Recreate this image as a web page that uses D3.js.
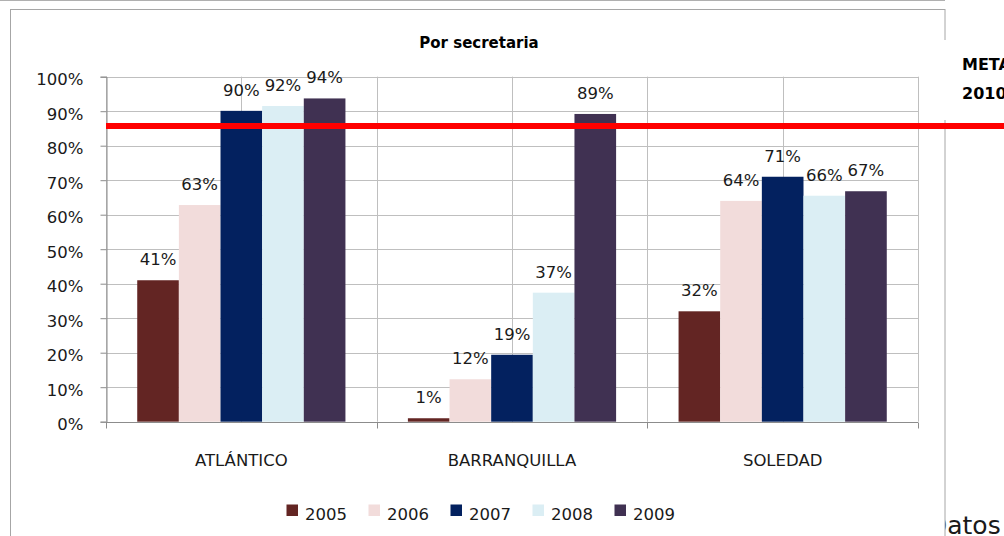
<!DOCTYPE html>
<html>
<head>
<meta charset="utf-8">
<script src="https://cdn.jsdelivr.net/npm/d3@7"></script>
<style>
  body { margin: 0; background: #fff; }
  svg { display: block; font-family: "DejaVu Sans", sans-serif; }
</style>
</head>
<body>
<svg id="chart" width="1004" height="536"></svg>
<script>
const categories = ['ATLÁNTICO', 'BARRANQUILLA', 'SOLEDAD'];
const years = ['2005', '2006', '2007', '2008', '2009'];
const colors = ['#632523', '#f2dcdb', '#03215f', '#dbeef4', '#403152'];
// one row per category, one value per year
const values = [
  [0.41, 0.628, 0.901, 0.915, 0.937],
  [0.01, 0.123, 0.194, 0.374, 0.892],
  [0.32, 0.64, 0.71, 0.655, 0.668]
];
const meta = 0.857;
const yTicks = [0, 0.1, 0.2, 0.3, 0.4, 0.5, 0.6, 0.7, 0.8, 0.9, 1];

const svg = d3.select('#chart');
const txtColor = '#1a1a1a';

// cell text behind the chart
svg.append('text')
  .attr('x', 928).attr('y', 534)
  .attr('font-size', 25).attr('fill', txtColor)
  .text('Datos');

svg.append('line')
  .attr('x1', 0).attr('x2', 945).attr('y1', 0.5).attr('y2', 0.5)
  .attr('stroke', '#b0b0b0');

// chart frame
svg.append('rect')
  .attr('x', 10.5).attr('y', 9.5).attr('width', 934.5).attr('height', 540)
  .attr('fill', '#fff').attr('stroke', '#a6a6a6');

// META box cuts the frame
svg.append('rect')
  .attr('x', 940).attr('y', 40).attr('width', 64).attr('height', 80)
  .attr('fill', '#fff');

const plot = { left: 106, right: 918, top: 76.7, bottom: 421.7 };

const x = d3.scaleBand().domain(categories).range([plot.left, plot.right]);
const xi = d3.scaleBand().domain(years).range([0, x.bandwidth()])
  .paddingInner(0).paddingOuter(0.75);
const y = d3.scaleLinear().domain([0, 1]).range([plot.bottom, plot.top]);

// gridlines
svg.append('g').selectAll('line').data(yTicks.slice(1)).join('line')
  .attr('x1', plot.left).attr('x2', plot.right)
  .attr('y1', d => Math.round(y(d)) + 0.5).attr('y2', d => Math.round(y(d)) + 0.5)
  .attr('stroke', '#bfbfbf').attr('stroke-width', 1);

const vLines = d3.range(0, 7).map(i => plot.left + i * x.bandwidth() / 2);
svg.append('g').selectAll('line').data(vLines).join('line')
  .attr('x1', d => Math.round(d) + 0.5).attr('x2', d => Math.round(d) + 0.5)
  .attr('y1', plot.top).attr('y2', plot.bottom)
  .attr('stroke', '#bfbfbf').attr('stroke-width', 1);

// bars
const groups = svg.append('g').selectAll('g').data(values).join('g')
  .attr('transform', (d, i) => `translate(${x(categories[i])},0)`);

groups.selectAll('rect').data(d => d).join('rect')
  .attr('x', (d, i) => xi(years[i]))
  .attr('width', xi.bandwidth())
  .attr('y', d => y(d))
  .attr('height', d => y(0) - y(d))
  .attr('fill', (d, i) => colors[i]);

groups.selectAll('text').data(d => d).join('text')
  .attr('x', (d, i) => xi(years[i]) + xi.bandwidth() / 2)
  .attr('y', d => y(d) - 15)
  .attr('text-anchor', 'middle')
  .attr('font-size', 16.5).attr('fill', txtColor)
  .text(d => Math.round(d * 100) + '%');

// y axis
const yAxis = d3.axisLeft(y).tickValues(yTicks).tickFormat(d3.format('.0%'))
  .tickSize(6).tickPadding(17);
const yg = svg.append('g').attr('transform', `translate(${plot.left + 0.5},0)`).call(yAxis);
yg.select('.domain').attr('stroke', '#8c8c8c');
yg.selectAll('.tick line').attr('stroke', '#8c8c8c');
yg.selectAll('.tick text').attr('font-size', 16.5).attr('fill', txtColor)
  .attr('font-family', '"DejaVu Sans", sans-serif').attr('dy', '0.5em');

// x axis
const xg = svg.append('g').attr('transform', `translate(0,${Math.round(plot.bottom) + 0.5})`);
xg.append('line').attr('x1', plot.left).attr('x2', plot.right)
  .attr('stroke', '#8c8c8c');
xg.selectAll('.tk').data(d3.range(0, 4).map(i => plot.left + i * x.bandwidth())).join('line')
  .attr('class', 'tk')
  .attr('x1', d => Math.round(d) + 0.5).attr('x2', d => Math.round(d) + 0.5)
  .attr('y1', 0).attr('y2', 6).attr('stroke', '#8c8c8c');
xg.selectAll('text').data(categories).join('text')
  .attr('x', d => x(d) + x.bandwidth() / 2)
  .attr('y', 43)
  .attr('text-anchor', 'middle')
  .attr('font-size', 16.5).attr('fill', txtColor)
  .text(d => d);

// title
svg.append('text')
  .attr('x', 479).attr('y', 48)
  .attr('text-anchor', 'middle')
  .attr('font-size', 15).attr('font-weight', 'bold').attr('fill', '#000')
  .text('Por secretaria');

// legend
const legend = svg.append('g').selectAll('g').data(years).join('g')
  .attr('transform', (d, i) => `translate(${286.5 + i * 82},504.5)`);
legend.append('rect').attr('width', 11.5).attr('height', 11.5)
  .attr('fill', (d, i) => colors[i]);
legend.append('text').attr('x', 18.5).attr('y', 15.5)
  .attr('font-size', 16.5).attr('fill', txtColor)
  .text(d => d);

// meta line
svg.append('line')
  .attr('x1', plot.left).attr('x2', 1004)
  .attr('y1', y(meta)).attr('y2', y(meta))
  .attr('stroke', '#ff0000').attr('stroke-width', 6);

svg.append('text')
  .attr('x', 962).attr('y', 70)
  .attr('font-size', 16).attr('font-weight', 'bold').attr('fill', '#000')
  .text('META');
svg.append('text')
  .attr('x', 962).attr('y', 99)
  .attr('font-size', 16).attr('font-weight', 'bold').attr('fill', '#000')
  .text('2010');
</script>
</body>
</html>
